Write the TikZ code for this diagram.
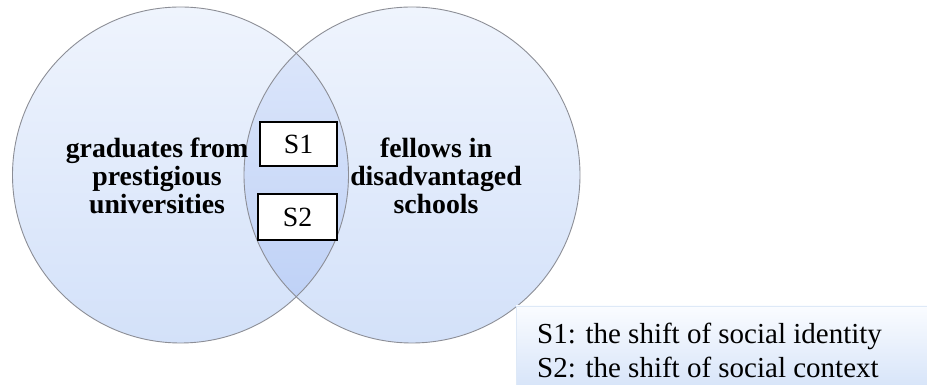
\documentclass[tikz,border=0pt]{standalone}
\usepackage{fontspec}
\setmainfont{Liberation Serif}
\definecolor{circTop}{RGB}{239,244,253}
\definecolor{circBot}{RGB}{211,225,249}
\definecolor{capTop}{RGB}{224,233,251}
\definecolor{capBot}{RGB}{186,206,246}
\definecolor{rimGrey}{RGB}{140,142,150}
\definecolor{keyTop}{RGB}{250,252,255}
\definecolor{keyMid}{RGB}{196,216,245}
\definecolor{keyBot}{RGB}{216,229,249}
\definecolor{keyRim}{RGB}{222,233,247}
\tikzset{
  setcircle/.style={top color=circTop, bottom color=circBot, draw=none},
  rim/.style={draw=rimGrey, line width=0.9pt},
  stagebox/.style={draw=black, fill=white, line width=1.1pt, inner sep=0pt,
    font=\fontsize{27.8}{28}\selectfont},
  setlabel/.style={align=center, inner sep=0pt,
    font=\fontsize{27.8}{28}\selectfont\bfseries},
  keytext/.style={align=left, inner sep=0pt,
    font=\fontsize{29}{34}\selectfont}
}
\begin{document}
\begin{tikzpicture}[x=1pt,y=1pt]
  \useasboundingbox (0,0) rectangle (927,385);
  % the two overlapping sets
  \coordinate (cl) at (180.5,210);
  \coordinate (cr) at (412,210);
  \shade[setcircle] (cl) circle[radius=168];
  \shade[setcircle] (cr) circle[radius=168];
  % darker lens where the sets meet
  \begin{scope}
    \clip (cl) circle[radius=168];
    \shade[top color=capTop, bottom color=capBot] (cr) circle[radius=168];
  \end{scope}
  \draw[rim] (cl) circle[radius=168];
  \draw[rim] (cr) circle[radius=168];
  % set labels
  \node[setlabel] (left) at (157,209.5) {graduates from\\prestigious\\universities};
  \node[setlabel] (right) at (436,209.5) {fellows in\\disadvantaged\\schools};
  % shift boxes in the overlap
  \node[stagebox, minimum width=77pt, minimum height=44pt] (s1) at (298.5,241) {S1};
  \node[stagebox, minimum width=79pt, minimum height=46pt] (s2) at (297.5,168) {S2};
  % key
  \shade[top color=keyTop, middle color=keyMid, bottom color=keyBot]
    (516,0) rectangle (927,79);
  \draw[keyRim, line width=0.8pt] (516,0) -- (516,79) -- (927,79);
  \node[keytext, anchor=west] (key) at (537,35)
    {S1: the shift of social identity\\S2: the shift of social context};
\end{tikzpicture}
\end{document}
